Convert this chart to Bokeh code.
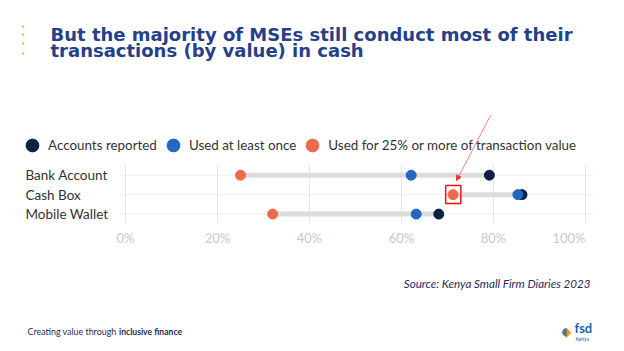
from bokeh.plotting import figure
from bokeh.models import (Label, Legend, LegendItem, Range1d,
                          BoxAnnotation, Arrow, NormalHead)
from bokeh.core.properties import value
from bokeh.embed import file_html
from bokeh.resources import INLINE

# ---------------- data ----------------
categories = ["Bank Account", "Cash Box", "Mobile Wallet"]
accounts_reported = [79.1, 86.2, 68.1]
used_at_least_once = [62.1, 85.3, 63.2]
used_25pct_value = [25.0, 71.2, 32.0]
series_names = ["Accounts reported", "Used at least once",
                "Used for 25% or more of transaction value"]
tick_values = [0, 20, 40, 60, 80, 100]
tick_labels = ["0%", "20%", "40%", "60%", "80%", "100%"]

# ---------------- layout ----------------
W, H = 624, 351
X0_PX, PX_PER_PCT = 125.0, 4.6          # page x of 0%, px per 1%
Y0_PX, PX_PER_ROW = 174.7, 19.45        # page y of first row, px per row

def dx(X):   # page x -> data x
    return (X - X0_PX) / PX_PER_PCT

def dy(Y):   # page y -> data y
    return (Y - Y0_PX) / PX_PER_ROW

def sx(X):   # page x -> screen x (frame == page)
    return X

def sy(Y):   # page y (top-down) -> screen y (bottom-up)
    return H - Y

rows = list(range(len(categories)))

p = figure(width=W, height=H, x_range=Range1d(dx(0), dx(W)),
           y_range=Range1d(dy(H), dy(0)), output_backend="svg",
           toolbar_location=None, x_axis_location=None, y_axis_location=None,
           min_border=0, outline_line_color=None,
           background_fill_color="white", border_fill_color="white")
p.grid.visible = False

# plot region limits
gx0, gx1 = dx(119), dx(593)
gy0, gy1 = dy(165), dy(222)

# grid lines
p.segment(x0=tick_values, x1=tick_values, y0=[gy0] * len(tick_values),
          y1=[gy1] * len(tick_values), line_color="#e4e4e4", line_width=1)
p.segment(x0=[gx0] * len(rows), x1=[gx1] * len(rows), y0=rows, y1=rows,
          line_color="#eeeeee", line_width=1)

# tick labels (last one kept inside the plot edge)
tick_align = ["center"] * (len(tick_values) - 1) + ["right"]
p.text(x=tick_values, y=[dy(237)] * len(tick_values), text=tick_labels,
       text_align=tick_align, text_baseline="middle",
       text_font=value("Lato"), text_font_size="13px", text_color="#c8c8c8")

# category labels
p.text(x=[dx(25)] * len(rows), y=rows, text=categories,
       text_align="left", text_baseline="middle",
       text_font=value("Lato"), text_font_size="13.5px", text_color="#333333")

# connecting bars
lo = [min(a, b, c) for a, b, c in zip(accounts_reported, used_at_least_once, used_25pct_value)]
hi = [max(a, b, c) for a, b, c in zip(accounts_reported, used_at_least_once, used_25pct_value)]
p.segment(x0=lo, x1=hi, y0=rows, y1=rows, line_color="#dcdcdc", line_width=5)

# dots
r_dark = p.scatter(accounts_reported, rows, size=10, color="#0c2144")
r_blue = p.scatter(used_at_least_once, rows, size=10, color="#2167c3")
r_orng = p.scatter(used_25pct_value, rows, size=10, color="#ee6a4d")

legend = Legend(items=[LegendItem(label=series_names[0], renderers=[r_dark]),
                       LegendItem(label=series_names[1], renderers=[r_blue]),
                       LegendItem(label=series_names[2], renderers=[r_orng])],
                orientation="horizontal", location=(sx(16), sy(161)),
                glyph_width=32, glyph_height=32, label_standoff=-7, spacing=0,
                padding=0, margin=0, border_line_color=None,
                background_fill_alpha=0, label_text_font="Lato",
                label_text_font_size="13.4px", label_text_color="#333333")
p.add_layout(legend)

# highlight box and arrow on Cash Box
hv = used_25pct_value[1]
p.add_layout(BoxAnnotation(left=hv - 1.6, right=hv + 1.7, top=1 - 0.47,
                           bottom=1 + 0.46, fill_alpha=0,
                           line_color="#ee1111", line_alpha=1.0,
                           line_width=1.5))
p.add_layout(Arrow(x_start=dx(490), y_start=dy(115), x_end=dx(456), y_end=dy(180),
                   line_color="#ff6060", line_width=0.8,
                   end=NormalHead(size=5, fill_color="#ff3030",
                                  line_color="#ff3030")))

# title
title_color = "#263f8a"
p.add_layout(Label(x=sx(50), y=sy(34), x_units="screen", y_units="screen",
                   text="But the majority of MSEs still conduct most of their",
                   text_baseline="middle", text_font="DejaVu Sans",
                   text_font_style="bold", text_font_size="18px",
                   text_color=title_color))
p.add_layout(Label(x=sx(50), y=sy(50), x_units="screen", y_units="screen",
                   text="transactions (by value) in cash",
                   text_baseline="middle", text_font="DejaVu Sans",
                   text_font_style="bold", text_font_size="18px",
                   text_color=title_color))
for yy in [26, 34.5, 43.5, 53]:
    p.add_layout(Label(x=sx(22.7), y=sy(yy), x_units="screen", y_units="screen",
                       text="•", text_align="center", text_baseline="middle",
                       text_font="DejaVu Sans", text_font_size="7px",
                       text_color="#f39c12"))

# source
p.add_layout(Label(x=sx(590), y=sy(283), x_units="screen", y_units="screen",
                   text="Source: Kenya Small Firm Diaries 2023",
                   text_align="right", text_baseline="middle",
                   text_font="Lato", text_font_style="italic",
                   text_font_size="11.6px", text_color="#1f2a5a"))

# footer
p.add_layout(Label(x=sx(27), y=sy(331), x_units="screen", y_units="screen",
                   text="Creating value through", text_baseline="middle",
                   text_font="Lato", text_font_size="8.9px", text_color="#1f2a5a"))
p.add_layout(Label(x=sx(118.5), y=sy(331), x_units="screen", y_units="screen",
                   text="inclusive finance", text_baseline="middle",
                   text_font="Lato", text_font_style="bold",
                   text_font_size="8.6px", text_color="#1f2a5a"))

# logo
p.add_layout(Label(x=sx(566), y=sy(331), x_units="screen", y_units="screen",
                   text="◆", text_align="center", text_baseline="middle",
                   text_font="DejaVu Sans", text_font_size="13px",
                   text_color="#f39c12"))
p.add_layout(Label(x=sx(564), y=sy(331), x_units="screen", y_units="screen",
                   text="◖", text_align="center", text_baseline="middle",
                   text_font="DejaVu Sans", text_font_size="11px",
                   text_color="#2167c3", text_alpha=0.8))
p.add_layout(Label(x=sx(574), y=sy(327), x_units="screen", y_units="screen",
                   text="fsd", text_baseline="middle", text_font="Lato",
                   text_font_style="bold", text_font_size="13px",
                   text_color="#1c5fae"))
p.add_layout(Label(x=sx(575), y=sy(338), x_units="screen", y_units="screen",
                   text="Kenya", text_baseline="middle", text_font="Lato",
                   text_font_size="5px", text_color="#1c5fae"))

open("out.html", "w").write(file_html(p, INLINE))
